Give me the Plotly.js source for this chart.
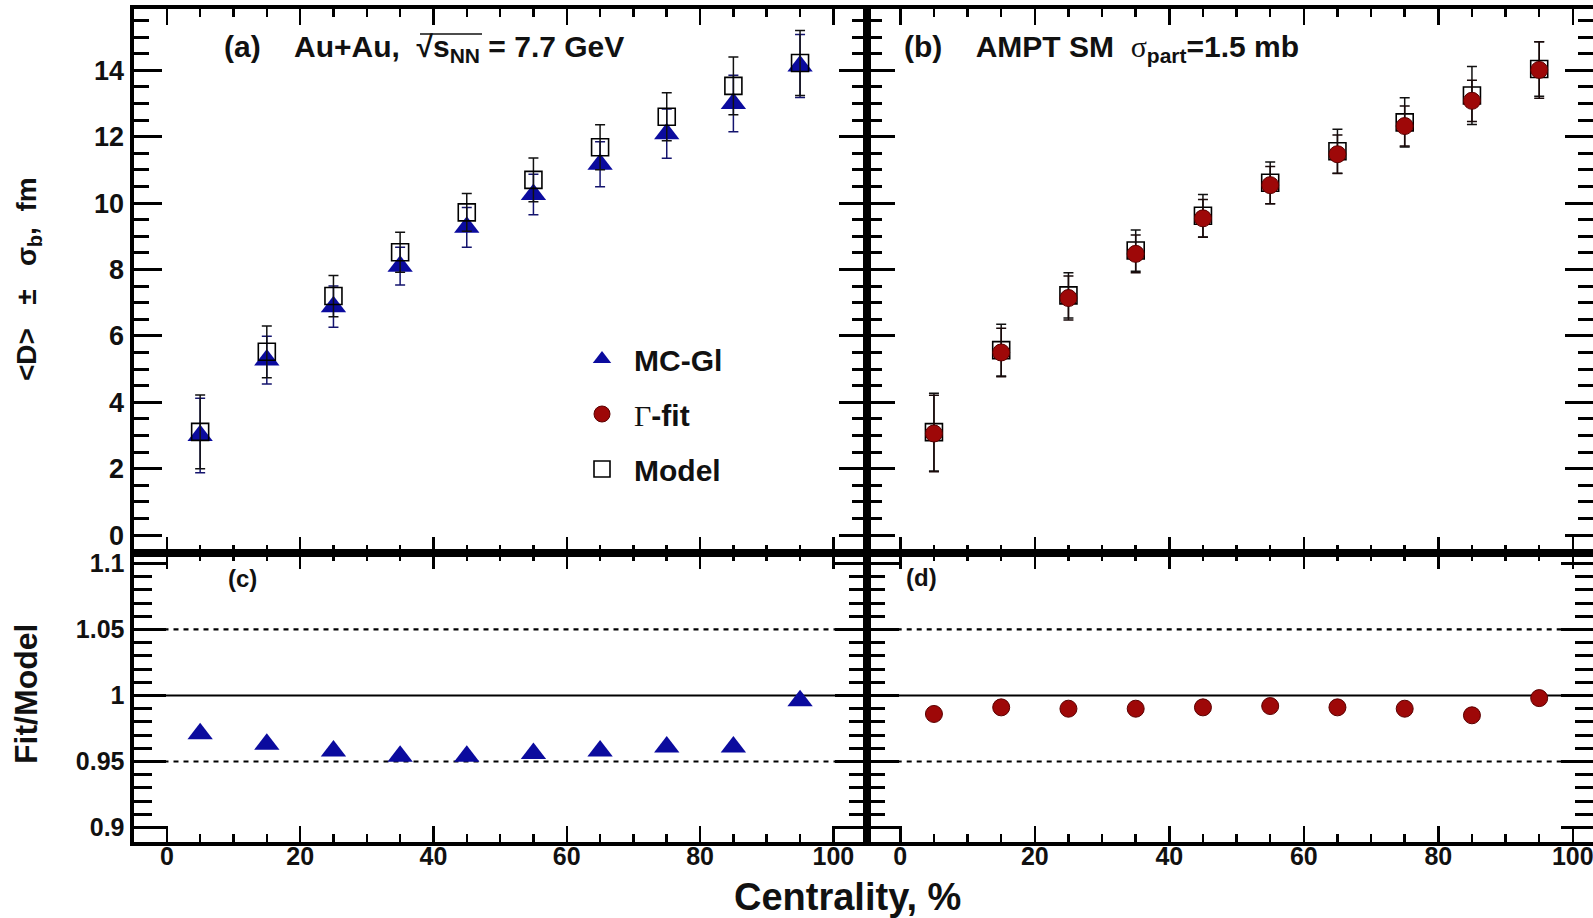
<!DOCTYPE html>
<html>
<head>
<meta charset="utf-8">
<script src="https://cdn.plot.ly/plotly-3.0.1.min.js"></script>
<style>html,body{margin:0;padding:0;background:#fff;overflow:hidden}</style>
</head>
<body>
<div id="chart" style="width:1593px;height:918px"></div>
<script>
// ---- data ----
const centrality = [5, 15, 25, 35, 45, 55, 65, 75, 85, 95];

// panel (a): Au+Au 7.7 GeV
const modelA    = [3.11, 5.52, 7.20, 8.52, 9.72, 10.70, 11.68, 12.60, 13.53, 14.22];
const modelAErr = [1.11, 0.78, 0.62, 0.60, 0.57, 0.66, 0.68, 0.72, 0.87, 0.98];
const mcglA     = [3.00, 5.27, 6.88, 8.10, 9.27, 10.26, 11.17, 12.09, 13.00, 14.13];
const mcglAErr  = [1.12, 0.72, 0.62, 0.57, 0.60, 0.61, 0.68, 0.74, 0.85, 0.95];

// panel (b): AMPT SM
const modelB    = [3.10, 5.57, 7.22, 8.57, 9.62, 10.61, 11.56, 12.43, 13.24, 14.04];
const modelBErr = [1.17, 0.78, 0.68, 0.62, 0.64, 0.63, 0.66, 0.74, 0.87, 0.82];
const gfitB     = [3.06, 5.50, 7.14, 8.47, 9.54, 10.54, 11.47, 12.32, 13.08, 14.01];
const gfitBErr  = [1.15, 0.73, 0.66, 0.57, 0.57, 0.56, 0.58, 0.60, 0.62, 0.85];

// ratios Fit/Model
const ratioC = [0.971, 0.963, 0.958, 0.954, 0.954, 0.956, 0.958, 0.961, 0.961, 0.996];
const ratioD = [0.986, 0.991, 0.990, 0.990, 0.991, 0.992, 0.991, 0.990, 0.985, 0.998];

const refLines = [1.05, 1.0, 0.95];

// ---- styles ----
const FONT = 'Liberation Sans, Arial, Helvetica, sans-serif';
const BLUE = '#0b0b9e';
const RED = '#9e0808';

function modelTrace(y, err, xa, ya, show) {
  return {
    x: centrality, y: y, xaxis: xa, yaxis: ya, type: 'scatter', mode: 'markers',
    name: 'Model', legendgroup: 'model', legendrank: 3, showlegend: show,
    marker: {symbol: 'square-open', size: 17, color: '#000', line: {width: 1.6, color: '#000'}},
    error_y: {type: 'data', array: err, visible: true, color: '#111', thickness: 1.5, width: 5}
  };
}

const traces = [
  {
    x: centrality, y: mcglA, xaxis: 'x', yaxis: 'y', type: 'scatter', mode: 'markers',
    name: 'MC-Gl', legendgroup: 'mcgl', legendrank: 1, showlegend: true,
    marker: {symbol: 'triangle-up', size: 22, color: BLUE, line: {width: 0}},
    error_y: {type: 'data', array: mcglAErr, visible: true, color: '#14146e', thickness: 1.5, width: 5}
  },
  modelTrace(modelA, modelAErr, 'x', 'y', true),
  modelTrace(modelB, modelBErr, 'x2', 'y2', false),
  {
    x: centrality, y: gfitB, xaxis: 'x2', yaxis: 'y2', type: 'scatter', mode: 'markers',
    name: '<span style="font-family:Liberation Serif;font-weight:normal">Γ</span>-fit',
    legendgroup: 'gfit', legendrank: 2, showlegend: true,
    marker: {symbol: 'circle', size: 17, color: RED, line: {width: 1, color: '#5a0000'}},
    error_y: {type: 'data', array: gfitBErr, visible: true, color: '#1a0a0a', thickness: 1.5, width: 5}
  },
  {
    x: centrality, y: ratioC, xaxis: 'x3', yaxis: 'y3', type: 'scatter', mode: 'markers',
    name: 'MC-Gl', legendgroup: 'mcgl', showlegend: false,
    marker: {symbol: 'triangle-up', size: 22, color: BLUE, line: {width: 0}}
  },
  {
    x: centrality, y: ratioD, xaxis: 'x4', yaxis: 'y4', type: 'scatter', mode: 'markers',
    name: 'Γ-fit', legendgroup: 'gfit', showlegend: false,
    marker: {symbol: 'circle', size: 17, color: RED, line: {width: 1, color: '#5a0000'}}
  }
];

const W = 1593, H = 918;
const px = v => v / W;
const py = v => 1 - v / H;

const xLeft = [px(133.5), px(866.7)];
const xRight = [px(866.7), 1];
const yTop = [py(552.7), py(8.5)];
const yBot = [py(841.7), py(552.7)];

function xAxis(domain, range, anchor, labels) {
  return {
    domain: domain, range: range, anchor: anchor,
    showline: true, linewidth: 4, linecolor: '#000', mirror: 'allticks',
    ticks: 'inside', ticklen: 16, tickwidth: 2.5, tickcolor: '#000',
    dtick: 20, tick0: 0,
    minor: {dtick: 5, ticklen: 8, tickwidth: 2.5, tickcolor: '#000', ticks: 'inside'},
    showgrid: false, zeroline: false,
    showticklabels: labels,
    ticklabeloverflow: 'allow',
    ticklabelstandoff: -11,
    tickfont: {family: FONT, size: 25, color: '#111', weight: 700},
    fixedrange: true
  };
}
function yAxisTop(domain, anchor, labels) {
  return {
    domain: domain, range: [-0.53, 15.86], anchor: anchor,
    showline: true, linewidth: 4, linecolor: '#000', mirror: 'allticks',
    ticks: 'inside', ticklen: 28, tickwidth: 3, tickcolor: '#000',
    dtick: 2, tick0: 0,
    minor: {dtick: 0.5, ticklen: 15, tickwidth: 3, tickcolor: '#000', ticks: 'inside'},
    showgrid: false, zeroline: false,
    showticklabels: labels,
    tickfont: {family: FONT, size: 27, color: '#111', weight: 700},
    fixedrange: true
  };
}
function yAxisBot(domain, anchor, labels) {
  return {
    domain: domain, range: [0.8893, 1.1081], anchor: anchor,
    showline: true, linewidth: 4, linecolor: '#000', mirror: 'allticks',
    ticks: 'inside', ticklen: 32, tickwidth: 3, tickcolor: '#000',
    dtick: 0.05, tick0: 0.9,
    minor: {dtick: 0.01, ticklen: 18, tickwidth: 3, tickcolor: '#000', ticks: 'inside'},
    showgrid: false, zeroline: false,
    showticklabels: labels,
    tickfont: {family: FONT, size: 25, color: '#111', weight: 700},
    fixedrange: true
  };
}

const shapes = [];
['x3', 'x4'].forEach(function (xa) {
  const ya = xa === 'x3' ? 'y3' : 'y4';
  refLines.forEach(function (v) {
    shapes.push({
      type: 'line', layer: 'below', xref: xa + ' domain', yref: ya,
      x0: 0, x1: 1, y0: v, y1: v,
      line: {color: '#000', width: v === 1 ? 2 : 2.2, dash: v === 1 ? 'solid' : '5px,5px'}
    });
  });
});
// overline of the square root
shapes.push({type: 'line', xref: 'paper', yref: 'paper',
  x0: px(420), x1: px(482), y0: py(34), y1: py(34), line: {color: '#111', width: 1.6}});

const bold = {family: FONT, color: '#111', weight: 700};
const NB = '\u00a0';
const annotations = [
  {xref: 'paper', yref: 'paper', x: px(222), y: py(49), xanchor: 'left', yanchor: 'middle', showarrow: false,
   text: '(a)' + NB.repeat(4) + 'Au+Au,' + NB.repeat(2) + '√s<sub>NN</sub> = 7.7 GeV', font: Object.assign({size: 30}, bold)},
  {xref: 'paper', yref: 'paper', x: px(902), y: py(49), xanchor: 'left', yanchor: 'middle', showarrow: false,
   text: '(b)' + NB.repeat(4) + 'AMPT SM' + NB.repeat(2) + '<span style="font-family:Liberation Serif;font-weight:normal">σ</span><sub>part</sub>=1.5 mb',
   font: Object.assign({size: 30}, bold)},
  {xref: 'paper', yref: 'paper', x: px(242), y: py(578), xanchor: 'center', yanchor: 'middle', showarrow: false,
   text: '(c)', font: Object.assign({size: 24}, bold)},
  {xref: 'paper', yref: 'paper', x: px(921), y: py(577), xanchor: 'center', yanchor: 'middle', showarrow: false,
   text: '(d)', font: Object.assign({size: 24}, bold)},
  {xref: 'paper', yref: 'paper', x: px(847), y: py(897), xanchor: 'center', yanchor: 'middle', showarrow: false,
   text: 'Centrality, %', font: Object.assign({size: 38}, bold)},
  {xref: 'paper', yref: 'paper', x: px(28), y: py(279), xanchor: 'center', yanchor: 'middle', showarrow: false,
   textangle: -90,
   text: '&lt;D&gt;' + NB.repeat(3) + '±' + NB.repeat(3) + 'σ<sub>b</sub>,' + NB.repeat(2) + 'fm', font: Object.assign({size: 28}, bold)},
  {xref: 'paper', yref: 'paper', x: px(26), y: py(694), xanchor: 'center', yanchor: 'middle', showarrow: false,
   textangle: -90,
   text: 'Fit/Model', font: Object.assign({size: 32}, bold)}
];

const layout = {
  width: W, height: H,
  margin: {l: 0, r: 0, t: 0, b: 0, pad: 0},
  paper_bgcolor: '#fff', plot_bgcolor: '#fff',
  font: {family: FONT, color: '#111'},
  showlegend: true,
  legend: {
    x: px(570), y: py(333), xanchor: 'left', yanchor: 'top',
    bgcolor: 'rgba(0,0,0,0)', borderwidth: 0,
    traceorder: 'grouped', tracegroupgap: 13, itemwidth: 54,
    font: {family: FONT, size: 30, color: '#111', weight: 700}
  },
  xaxis: xAxis(xLeft, [-5, 105], 'y', false),
  yaxis: yAxisTop(yTop, 'x', true),
  xaxis2: xAxis(xRight, [-5, 103.0], 'y2', false),
  yaxis2: yAxisTop(yTop, 'x2', false),
  xaxis3: xAxis(xLeft, [-5, 105], 'y3', true),
  yaxis3: yAxisBot(yBot, 'x3', true),
  xaxis4: xAxis(xRight, [-5, 103.0], 'y4', true),
  yaxis4: yAxisBot(yBot, 'x4', false),
  shapes: shapes,
  annotations: annotations
};

Plotly.newPlot('chart', traces, layout, {staticPlot: true, displayModeBar: false});
</script>
</body>
</html>
